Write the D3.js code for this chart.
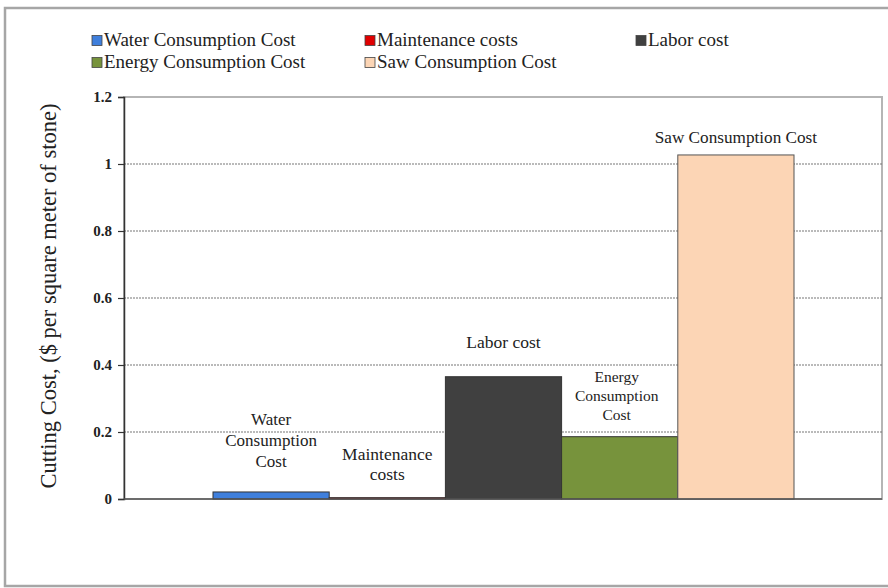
<!DOCTYPE html>
<html>
<head>
<meta charset="utf-8">
<script src="https://cdn.jsdelivr.net/npm/d3@7"></script>
<style>
  html, body { margin: 0; padding: 0; background: #fff; }
  svg { display: block; }
  text { font-family: "Liberation Serif", "Times New Roman", serif; }
</style>
</head>
<body>
<svg id="chart" width="888" height="588"></svg>
<script>
// Cutting cost components, $ per square meter of stone
const categories = ["Water Consumption Cost", "Maintenance costs", "Labor cost", "Energy Consumption Cost", "Saw Consumption Cost"];
const values = [0.021, 0.004, 0.365, 0.186, 1.027];
const colors = ["#3f7fdc", "#e00000", "#404040", "#77933c", "#fcd5b5"];
const barLabels = [["Water", "Consumption", "Cost"], ["Maintenance", "costs"], ["Labor cost"], ["Energy", "Consumption", "Cost"], ["Saw Consumption Cost"]];
const yTicks = [0, 0.2, 0.4, 0.6, 0.8, 1, 1.2];
const yTickLabels = ["0", "0.2", "0.4", "0.6", "0.8", "1", "1.2"];
const legendOrder = ["Water Consumption Cost", "Maintenance costs", "Labor cost", "Energy Consumption Cost", "Saw Consumption Cost"];

const FONT = "Liberation Serif, Times New Roman, serif";
const svg = d3.select("#chart");

// outer frame
svg.append("rect").attr("x", 5).attr("y", 8).attr("width", 900).attr("height", 578)
  .attr("fill", "none").attr("stroke", "#a6a6a6").attr("stroke-width", 2.5);

const plot = { left: 124, right: 882, top: 97, bottom: 499 };

const y = d3.scaleLinear().domain([0, 1.2]).range([plot.bottom, plot.top]);
const x = d3.scaleBand().domain(categories)
  .range([plot.left + 89, plot.right - 88]).paddingInner(0).paddingOuter(0);

// plot area frame
svg.append("rect").attr("x", plot.left).attr("y", plot.top)
  .attr("width", plot.right - plot.left).attr("height", plot.bottom - plot.top)
  .attr("fill", "none").attr("stroke", "#b5b5b5").attr("stroke-width", 2);

// dashed gridlines
svg.append("g").selectAll("line")
  .data(yTicks.filter(t => t > 0 && t < 1.2))
  .join("line")
  .attr("x1", plot.left).attr("x2", plot.right)
  .attr("y1", d => y(d)).attr("y2", d => y(d))
  .attr("stroke", "#777").attr("stroke-width", 1.2).attr("stroke-dasharray", "2,1");

// bars
svg.append("g").selectAll("rect")
  .data(categories)
  .join("rect")
  .attr("x", d => x(d))
  .attr("y", (d, i) => y(values[i]))
  .attr("width", x.bandwidth())
  .attr("height", (d, i) => y(0) - y(values[i]))
  .attr("fill", (d, i) => colors[i])
  .attr("stroke", (d, i) => i === 4 ? "#555" : "#333")
  .attr("stroke-width", 1);

// bar labels (multi-line, centred over each bar)
const labelSizes = [17, 17.5, 17.5, 15.5, 17.2];
const lineHeights = [21, 20, 21, 19, 21];
const labelGaps = [25, 18, 29, 17, 12];
const labelDx = [0, 0, 0, -3, 0];
categories.forEach((c, i) => {
  const lines = barLabels[i];
  const cx = x(c) + x.bandwidth() / 2 + labelDx[i];
  const baseY = y(values[i]) - labelGaps[i] - (lines.length - 1) * lineHeights[i];
  const t = svg.append("text").attr("text-anchor", "middle").attr("font-family", FONT)
    .attr("font-size", labelSizes[i]).attr("fill", "#222");
  lines.forEach((ln, k) => {
    t.append("tspan").attr("x", cx).attr("y", baseY + k * lineHeights[i]).text(ln);
  });
});

// y axis
const yAxis = d3.axisLeft(y).tickValues(yTicks)
  .tickFormat((d, i) => yTickLabels[i]).tickSize(6).tickPadding(6);
const gy = svg.append("g").attr("transform", `translate(${plot.left},0)`).call(yAxis)
  .attr("font-family", FONT);
gy.select(".domain").attr("stroke", "#333").attr("stroke-width", 1.5);
gy.selectAll(".tick line").attr("stroke", "#333").attr("stroke-width", 1.2);
gy.selectAll(".tick text").attr("font-family", FONT)
  .attr("font-size", 15).attr("font-weight", "bold").attr("fill", "#222");

// baseline
svg.append("line").attr("x1", plot.left).attr("x2", plot.right)
  .attr("y1", y(0)).attr("y2", y(0)).attr("stroke", "#555").attr("stroke-width", 1.5);

// y axis title
svg.append("text")
  .attr("transform", `translate(56,296) rotate(-90)`)
  .attr("text-anchor", "middle").attr("font-family", FONT)
  .attr("font-size", 22.5).attr("fill", "#222")
  .text("Cutting Cost, ($ per square meter of stone)");

// legend
const legendPos = [[92, 46], [365, 46], [636, 46], [92, 68], [365, 68]];
legendOrder.forEach((name, i) => {
  const idx = categories.indexOf(name);
  const [lx, ly] = legendPos[i];
  svg.append("rect").attr("x", lx).attr("y", ly - 10.5).attr("width", 10).attr("height", 10)
    .attr("fill", colors[idx]).attr("stroke", "#444").attr("stroke-width", 0.8);
  svg.append("text").attr("x", lx + 12).attr("y", ly).attr("font-family", FONT)
    .attr("font-size", 19).attr("fill", "#222").text(name);
});
</script>
</body>
</html>
